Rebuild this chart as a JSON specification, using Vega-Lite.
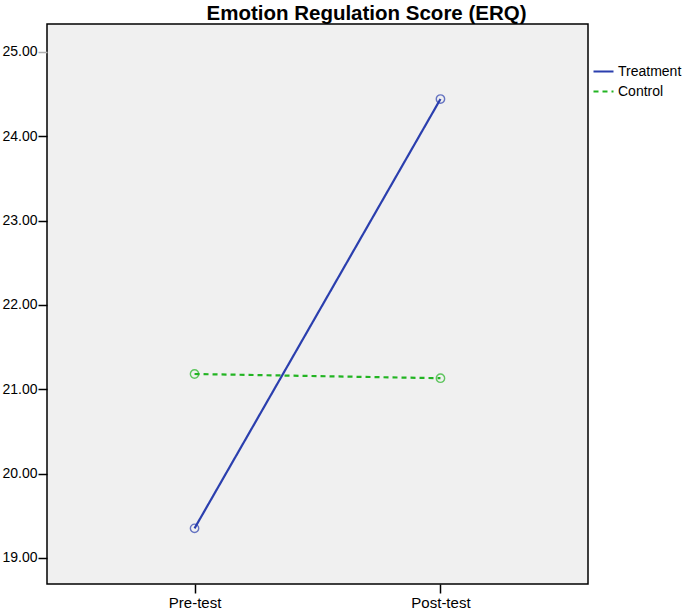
{
  "$schema": "https://vega.github.io/schema/vega-lite/v6.json",
  "width": 541,
  "height": 560,
  "autosize": "none",
  "padding": {"left": 47, "top": 24, "right": 102, "bottom": 28},
  "background": "white",
  "title": {
    "text": "Emotion Regulation Score (ERQ)",
    "font": "Liberation Sans",
    "fontSize": 20.5,
    "fontWeight": "bold",
    "color": "black",
    "anchor": "middle",
    "dx": 49,
    "offset": 0
  },
  "config": {
    "view": {"fill": "#f0f0f0", "stroke": "black", "strokeWidth": 1.5},
    "font": "Liberation Sans"
  },
  "data": {
    "values": [
      {"time": "Pre-test", "group": "Treatment", "score": 19.35},
      {"time": "Post-test", "group": "Treatment", "score": 24.44},
      {"time": "Pre-test", "group": "Control", "score": 21.18},
      {"time": "Post-test", "group": "Control", "score": 21.13}
    ]
  },
  "encoding": {
    "x": {
      "field": "time",
      "type": "nominal",
      "sort": ["Pre-test", "Post-test"],
      "scale": {"type": "point", "padding": 0.6},
      "axis": {
        "title": null,
        "labelAngle": 0,
        "labelFontSize": 15,
        "labelColor": "black",
        "tickColor": "black",
        "tickSize": 9,
        "tickWidth": 1.5,
        "domain": false,
        "labelPadding": 2,
        "grid": false
      }
    },
    "y": {
      "field": "score",
      "type": "quantitative",
      "scale": {"domain": [18.69, 25.33], "nice": false, "zero": false},
      "axis": {
        "title": null,
        "values": [19, 20, 21, 22, 23, 24, 25],
        "format": ".2f",
        "labelFontSize": 14,
        "labelColor": "black",
        "tickColor": {"condition": {"test": "datum.value == 25", "value": "#b0b0b0"}, "value": "black"},
        "tickSize": 9,
        "tickWidth": 1.5,
        "domain": false,
        "labelPadding": 1,
        "grid": false
      }
    }
  },
  "layer": [
    {
      "mark": {"type": "line", "strokeWidth": 2.2},
      "encoding": {
        "color": {
          "field": "group",
          "type": "nominal",
          "sort": ["Treatment", "Control"],
          "scale": {"domain": ["Treatment", "Control"], "range": ["#2b3fae", "#22b422"]},
          "legend": {
            "title": null,
            "orient": "none",
            "legendX": 545,
            "legendY": 36,
            "symbolType": "stroke",
            "symbolSize": 400,
            "symbolStrokeWidth": 2.2,
            "labelFontSize": 14,
            "labelColor": "black",
            "rowPadding": 1,
            "labelOffset": 3
          }
        },
        "strokeDash": {
          "field": "group",
          "type": "nominal",
          "sort": ["Treatment", "Control"],
          "scale": {"domain": ["Treatment", "Control"], "range": [[1, 0], [5, 4]]}
        }
      }
    },
    {
      "mark": {"type": "point", "shape": "circle", "filled": false, "size": 70, "strokeWidth": 1.4},
      "encoding": {
        "color": {
          "field": "group",
          "type": "nominal",
          "sort": ["Treatment", "Control"],
          "scale": {"domain": ["Treatment", "Control"], "range": ["#2b3fae", "#22b422"]},
          "legend": null
        }
      }
    }
  ]
}
